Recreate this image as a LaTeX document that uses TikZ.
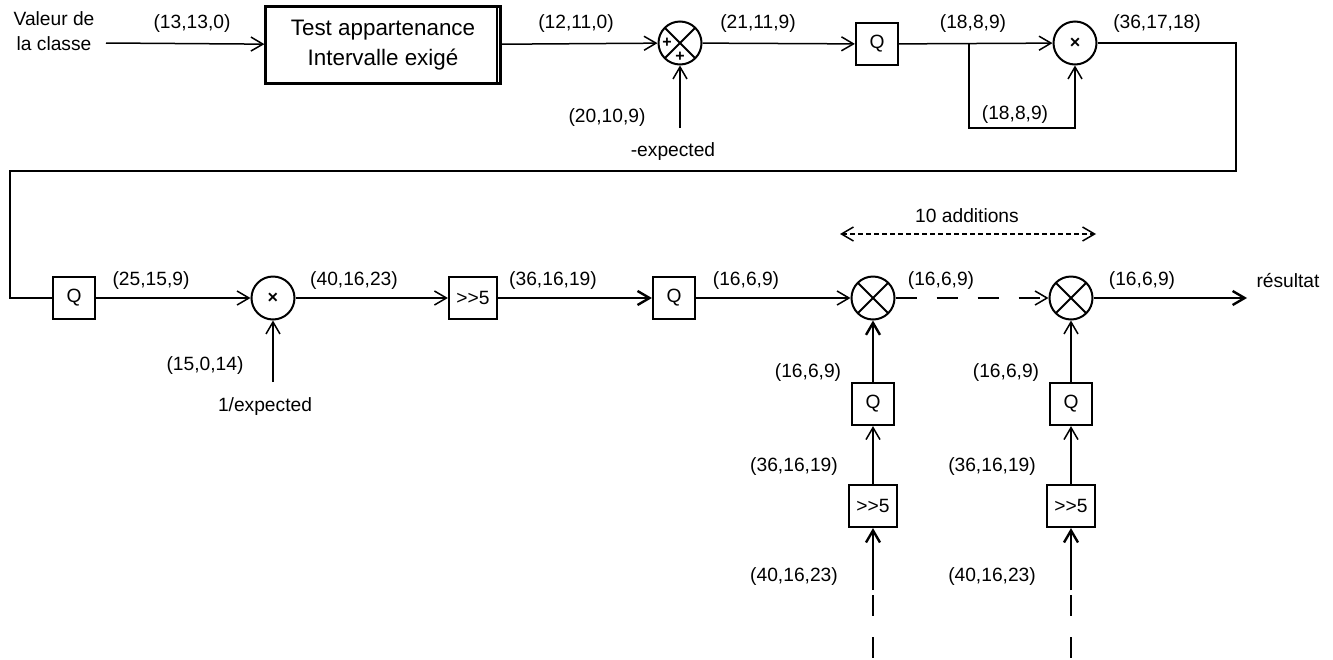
\documentclass[tikz,border=0pt]{standalone}
\usepackage{fontspec}
\setmainfont{Liberation Sans}
\usetikzlibrary{arrows.meta,positioning}
\newcommand\lbl{\fontsize{9.6}{12.5}\selectfont}

\begin{document}
\begin{tikzpicture}[x=0.5pt, y=-0.5pt, >={Straight Barb[length=6pt,width=7pt]},
  wire/.style={line width=0.75pt},
  fat/.style={line width=1.2pt},
  blk/.style={draw, line width=1.1pt, minimum width=21pt, minimum height=21pt, inner sep=0pt, font=\lbl},
  opc/.style={draw, circle, line width=1pt, minimum size=21.5pt, inner sep=0pt},
  addop/.style={opc, path picture={\draw[line width=1pt] (path picture bounding box.north west) -- (path picture bounding box.south east) (path picture bounding box.north east) -- (path picture bounding box.south west);}},
  mulop/.style={opc, font=\fontsize{9}{9}\selectfont\bfseries},
  txt/.style={font=\lbl, inner sep=0pt}]
\useasboundingbox (0,0) rectangle (1333,659);

% ligne du haut
\node[txt, align=center] (src) at (54,31) {Valeur de\\la classe};
\coordinate (srcout) at (106,43);
\node[blk, minimum width=117.5pt, minimum height=38.5pt, font=\fontsize{11.2}{15}\selectfont, align=center] (test) at (383,45) {Test appartenance\\Intervalle exigé};
\draw[line width=1pt] ([xshift=-2.5pt]test.north east) -- ([xshift=-2.5pt]test.south east);
\node[addop] (add0) at (680,43) {};
\node[font=\fontsize{8}{8}\selectfont\bfseries, inner sep=0pt] (pa) at ([xshift=-6.5pt]add0.center) {+};
\node[font=\fontsize{8}{8}\selectfont\bfseries, inner sep=0pt] (pb) at ([yshift=-7pt]add0.center) {+};
\coordinate (exp1) at (680,128);
\node[blk] (q1) at (877,44) {Q};
\node[mulop] (mul1) at (1075,43) {×};
\coordinate (br) at (969,43);
\coordinate (brlow) at (969,128);
\coordinate (lpR) at (1236,171);
\coordinate (lpL) at (10,171);

\draw[wire,->] (srcout) -- (test);
\draw[wire,->] (test) -- (add0);
\draw[wire,->] (exp1) -- (add0);
\draw[wire,->] (add0) -- (q1);
\draw[wire,->] (q1) -- (mul1);
\draw[wire,->] (br) -- (brlow) -| (mul1);

\node[txt] (l1) at (192,24) {(13,13,0)};
\node[txt] (l2) at (576,24) {(12,11,0)};
\node[txt] (l3) at (607,118) {(20,10,9)};
\node[txt] (l4) at (673,152) {-expected};
\node[txt] (l5) at (758,24) {(21,11,9)};
\node[txt] (l6) at (973,24) {(18,8,9)};
\node[txt] (l7) at (1015,115) {(18,8,9)};
\node[txt] (l8) at (1157,24) {(36,17,18)};

% boucle vers la ligne du bas
\node[blk] (q2) at (74,298) {Q};
\draw[fat] (mul1) -| (lpR) -- (lpL) |- (q2);

% ligne du bas
\node[mulop] (mul2) at (273,298) {×};
\coordinate (exp2) at (273,382);
\node[blk, minimum width=24pt] (sh1) at (473,298) {>{}>5};
\node[blk] (q3) at (674,298) {Q};
\node[addop] (add1) at (873,298) {};
\node[addop] (add2) at (1071,298) {};
\coordinate (out) at (1247,298);

\draw[wire,->] (q2) -- (mul2);
\draw[wire,->] (exp2) -- (mul2);
\draw[wire,->] (mul2) -- (sh1);
\draw[fat,->] (sh1) -- (q3);
\draw[wire,->] (q3) -- (add1);
\draw[wire,->, dash pattern=on 10.5pt off 10pt] (add1) -- (add2);
\draw[fat,->] (add2) -- (out);

\node[txt] (l9) at (151,281) {(25,15,9)};
\node[txt] (l10) at (205,366) {(15,0,14)};
\node[txt] (l11) at (265,407) {1/expected};
\node[txt] (l12) at (354,281) {(40,16,23)};
\node[txt] (l13) at (553,281) {(36,16,19)};
\node[txt] (l14) at (746,281) {(16,6,9)};
\node[txt] (l15) at (941,281) {(16,6,9)};
\node[txt] (l16) at (1142,281) {(16,6,9)};
\node[txt] (res) at (1288,281) {résultat};

% 10 additions
\node[txt] (nadd) at (967,216) {10 additions};
\coordinate (da) at (840,234);
\coordinate (db) at (1096,234);
\draw[wire,<->, dash pattern=on 2.5pt off 1.5pt] (da) -- (db);

% colonnes
\foreach \n/\x in {1/873,2/1071}{
  \node[blk] (qc\n) at (\x,404) {Q};
  \node[blk, minimum width=24pt] (shc\n) at (\x,506) {>{}>5};
  \coordinate (inc\n) at (\x,590);
  \coordinate (dca\n) at (\x,595);
  \coordinate (dcb\n) at (\x,659);
  \draw[wire,->] (shc\n) -- (qc\n);
  \draw[fat,->] (inc\n) -- (shc\n);
  \draw[fat, dash pattern=on 10.5pt off 10.5pt] (dca\n) -- (dcb\n);
  \node[txt] (lq\n) at (\x-65,373) {(16,6,9)};
  \node[txt] (ls\n) at (\x-79,467) {(36,16,19)};
  \node[txt] (li\n) at (\x-79,577) {(40,16,23)};
}
\draw[fat,->] (qc1) -- (add1);
\draw[wire,->] (qc2) -- (add2);
\end{tikzpicture}
\end{document}
